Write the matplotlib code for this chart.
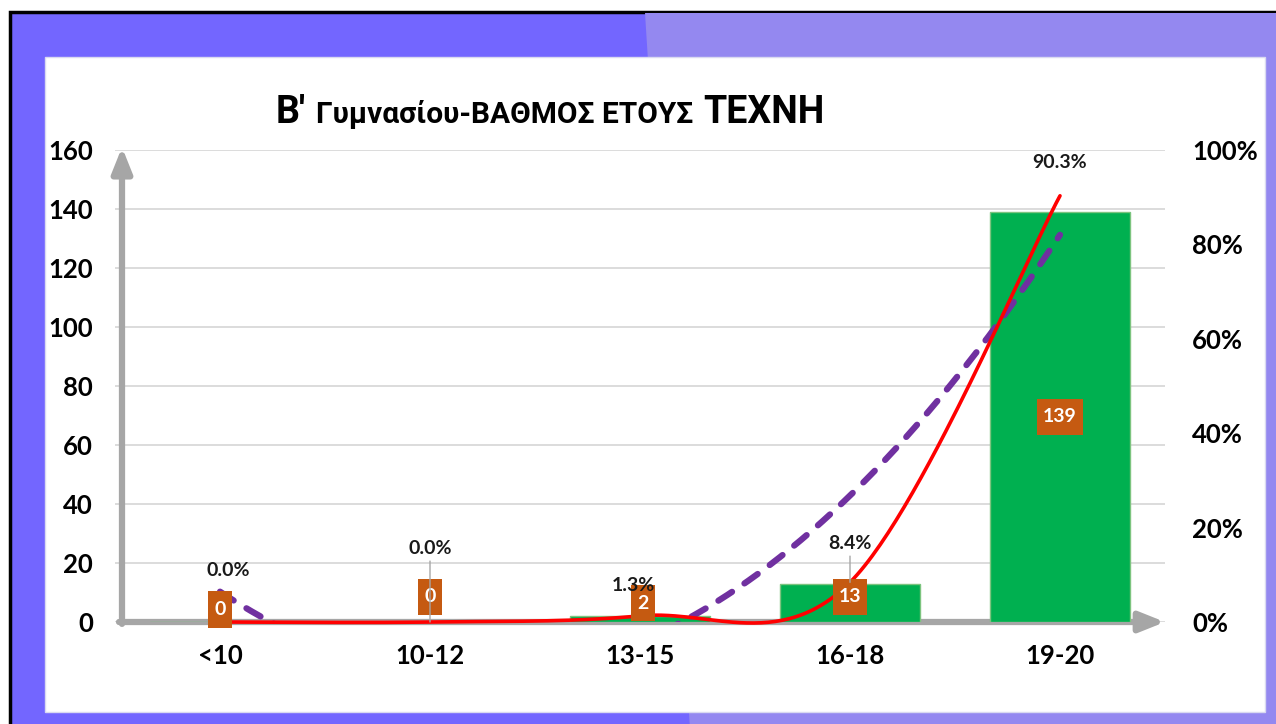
import numpy as np
import matplotlib.pyplot as plt
from matplotlib.patches import Rectangle, Polygon
from matplotlib.path import Path

plt.rcParams['font.family'] = ['Lato', 'DejaVu Sans']

# ---------------------------
# data
# ---------------------------
categories = ["<10", "10-12", "13-15", "16-18", "19-20"]
counts = [0, 0, 2, 13, 139]
percents = [0.0, 0.0, 1.3, 8.4, 90.3]
count_ticks = [0, 20, 40, 60, 80, 100, 120, 140, 160]
pct_ticks = [0, 20, 40, 60, 80, 100]

# label nudges in points (dx, dy)
pct_offsets = [(6, 37), (0, 53), (-5, 22), (0, 28), (0, 24)]
box_offsets = [(0, 9), (0, 18), (2, 11.5), (0, 4.3), (0, 0)]
leader = [False, True, False, True, False]

title_font = ['Roboto', 'DejaVu Sans']


def smooth_curve(xs, ys, n=60):
    # bezier smoothing through every point (spreadsheet style)
    pts = np.column_stack([xs, ys]).astype(float)
    P = np.vstack([pts[0], pts, pts[-1]])
    t = np.linspace(0, 1, n)[:, None]
    out = []
    for i in range(len(pts) - 1):
        p0, p1, p2, p3 = P[i], P[i + 1], P[i + 2], P[i + 3]
        c1 = p1 + (p2 - p0) / 6
        c2 = p2 - (p3 - p1) / 6
        seg = (1 - t) ** 3 * p1 + 3 * (1 - t) ** 2 * t * c1 + 3 * (1 - t) * t ** 2 * c2 + t ** 3 * p2
        out.append(seg)
    out = np.vstack(out)
    return out[:, 0], out[:, 1]


def tall_box(x0, y0, width, height, mutation_size):
    # rectangle with more padding top/bottom than left/right
    px, py = 0.32 * mutation_size, 0.5 * mutation_size
    x0, y0 = x0 - px, y0 - py
    x1, y1 = x0 + width + 2 * px, y0 + height + 2 * py
    return Path([(x0, y0), (x1, y0), (x1, y1), (x0, y1), (x0, y0)], closed=True)


W, H = 1276, 724
fig = plt.figure(figsize=(W / 100, H / 100), dpi=100)
fig.patch.set_facecolor('white')

# ---------------------------
# slide frame
# ---------------------------
bg = fig.add_axes([0, 0, 1, 1])
bg.set_xlim(0, W)
bg.set_ylim(H, 0)
bg.axis('off')
bg.add_patch(Rectangle((10, 12), W, H, facecolor='#7366FF', edgecolor='black', lw=2.5))
bg.add_patch(Polygon([(645, 13), (W + 5, 13), (W + 5, H + 5), (690, H + 5)],
                     closed=True, facecolor='#9488F0', edgecolor='none'))
bg.add_patch(Rectangle((45, 57), 1220, 655, facecolor='white', edgecolor='#DADAF0', lw=1))

# ---------------------------
# bars (left axis)
# ---------------------------
ax = fig.add_axes([115 / W, (H - 622) / H, 1050 / W, 472 / H])
ax.patch.set_alpha(0)
x = np.arange(len(categories))

ax.bar(x, counts, width=0.67, color='#00B050', edgecolor='#7CC47F', lw=1, zorder=2)
ax.set_xlim(-0.5, 4.5)
ax.set_ylim(0, 160)
ax.set_yticks(count_ticks)
ax.set_xticks(x)
ax.set_xticklabels(categories)
ax.yaxis.grid(True, color='#D9D9D9', lw=1.3)
ax.set_axisbelow(True)
for s in ax.spines.values():
    s.set_visible(False)
ax.tick_params(axis='y', length=0, pad=16, labelsize=18.5)
ax.tick_params(axis='x', length=0, pad=16, labelsize=18.5)
for lab in ax.get_xticklabels() + ax.get_yticklabels():
    lab.set_fontweight('bold')

# grey axis arrows
arrow_kw = dict(arrowstyle='-|>,head_length=0.75,head_width=0.3', color='#A6A6A6',
                lw=4.5, shrinkA=0, shrinkB=0, mutation_scale=20)
ax.annotate('', xy=(1.0, 0), xytext=(4 / 1050, 0), xycoords='axes fraction',
            arrowprops=arrow_kw, annotation_clip=False, zorder=1.5)
ax.annotate('', xy=(7 / 1050, 1.006), xytext=(7 / 1050, -0.004), xycoords='axes fraction',
            arrowprops=arrow_kw, annotation_clip=False, zorder=1.5)

# ---------------------------
# percentages (right axis)
# ---------------------------
ax2 = ax.twinx()
ax2.set_ylim(0, 100)
ax2.set_yticks(pct_ticks)
ax2.set_yticklabels([f"{t}%" for t in pct_ticks])
for s in ax2.spines.values():
    s.set_visible(False)
ax2.tick_params(axis='y', length=0, pad=19.5, labelsize=18.5)
for lab in ax2.get_yticklabels():
    lab.set_fontweight('bold')

# polynomial trend (order 2) of the percentages
coef = np.polyfit(x, percents, 2)
xt = np.linspace(0, 4, 400)
ax2.plot(xt, np.polyval(coef, xt), color='#7030A0', lw=4.5,
         ls=(0, (2.6, 2.4)), dash_capstyle='round', zorder=2)

# smoothed percentage line
sx, sy = smooth_curve(x, percents)
ax2.plot(sx, sy, color='#FF0000', lw=2.6, zorder=3, clip_on=False,
         solid_capstyle='round')

# count labels in orange boxes
for i, c in enumerate(counts):
    ax2.annotate(str(c), xy=(i, c / 2), xycoords=ax.transData,
                 xytext=box_offsets[i], textcoords='offset points',
                 ha='center', va='center', fontsize=14, fontweight='bold', color='white',
                 bbox=dict(boxstyle=tall_box, facecolor='#C55A11', edgecolor='none'),
                 zorder=6)

# percentage labels sit above the boxes
for i, p in enumerate(percents):
    kw = {}
    if leader[i]:
        kw['arrowprops'] = dict(arrowstyle='-', color='#A6A6A6', lw=1, shrinkA=1, shrinkB=0)
    ax2.annotate(f"{p:.1f}%", xy=(i, p), xytext=pct_offsets[i], textcoords='offset points',
                 ha='center', va='center', fontsize=14, fontweight='bold',
                 color='#1A1A1A', zorder=7, **kw)

# ---------------------------
# title in three sizes
# ---------------------------
t1 = fig.text(276 / W, 1 - 123 / H, "B'", fontsize=27, fontweight='bold',
              family=title_font, va='baseline', ha='left')
t2 = fig.text(0, 0, "Γυμνασίου-ΒΑΘΜΟΣ ΕΤΟΥΣ", fontsize=21.5, fontweight='bold',
              family=title_font, va='baseline', ha='left')
t3 = fig.text(0, 0, "ΤΕΧΝΗ", fontsize=27, fontweight='bold',
              family=title_font, va='baseline', ha='left')

fig.canvas.draw()
r = fig.canvas.get_renderer()
e1 = t1.get_window_extent(r)
t2.set_position(((e1.x1 + 10) / W, 1 - 123 / H))
fig.canvas.draw()
e2 = t2.get_window_extent(r)
t3.set_position(((e2.x1 + 10) / W, 1 - 123 / H))

fig.savefig('out.png', dpi=100)
